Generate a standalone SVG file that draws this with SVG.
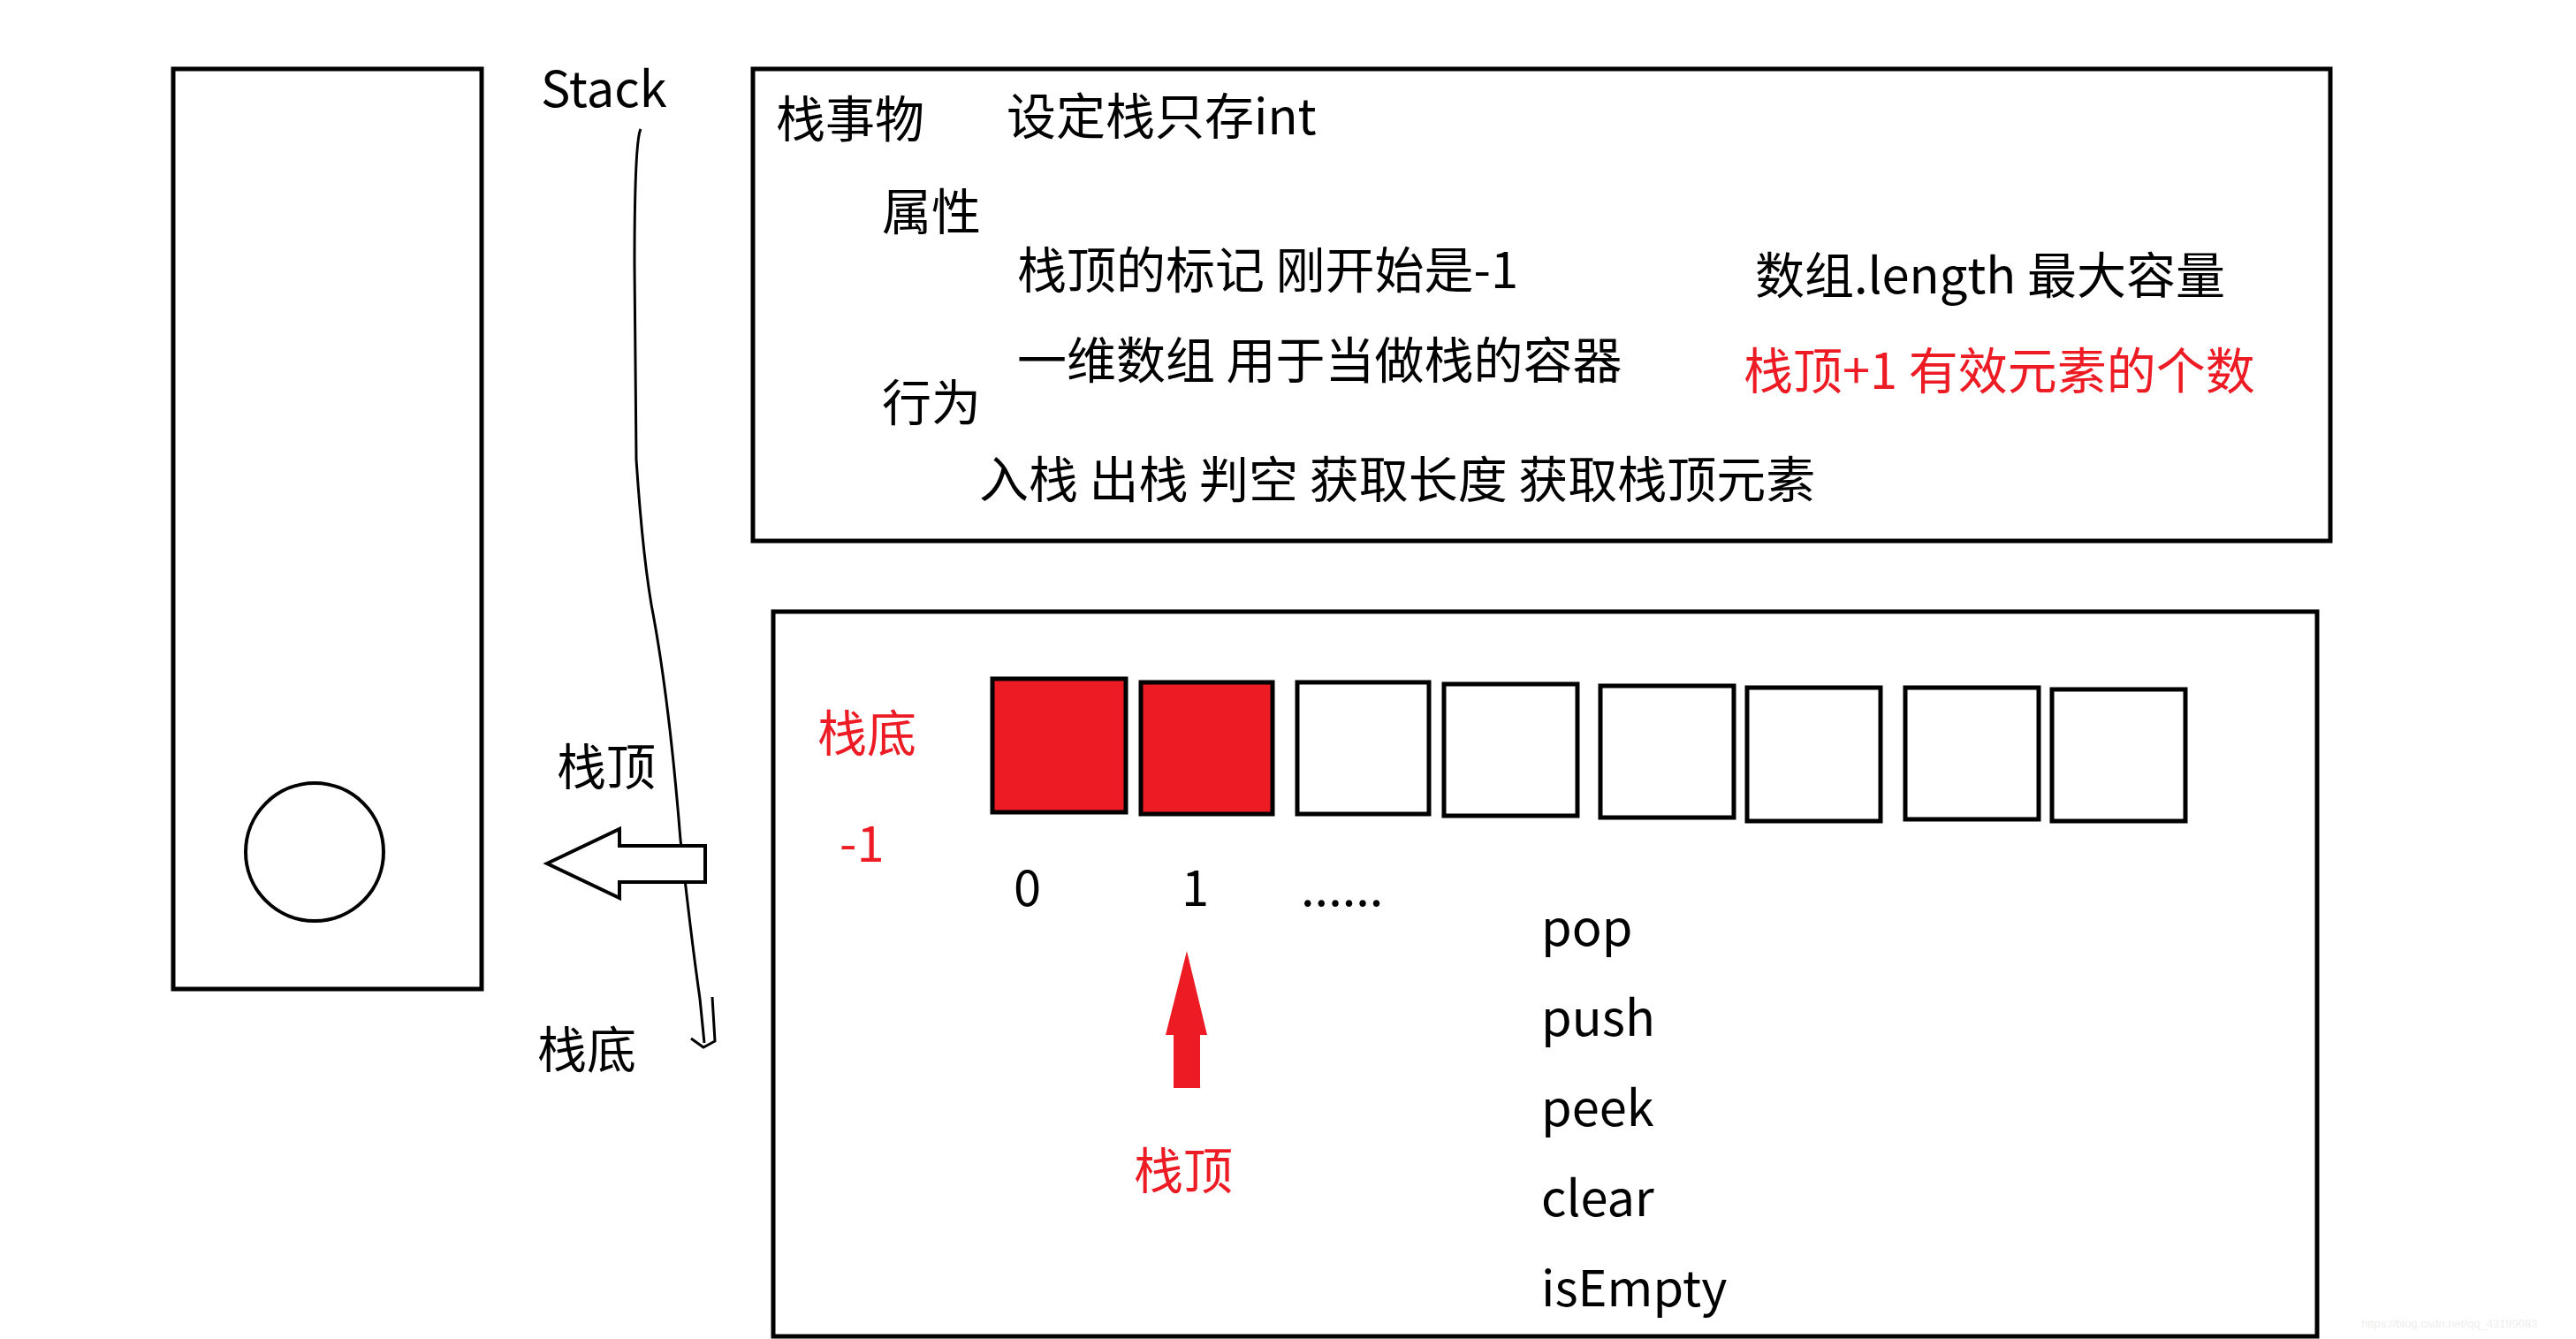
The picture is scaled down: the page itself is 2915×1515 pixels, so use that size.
<svg xmlns="http://www.w3.org/2000/svg" width="2915" height="1515" viewBox="0 0 2915 1515">
<style>
.t{font-family:"Noto Sans CJK SC","Noto Sans",sans-serif;font-size:56px;fill:#000}
.r{fill:#ed1c24}
.box{fill:none;stroke:#000;stroke-width:5}
.cell{fill:#fff;stroke:#000;stroke-width:5}
.red{fill:#ed1c24;stroke:#000;stroke-width:5}
</style>
<rect width="2915" height="1515" fill="#fff"/>
<g id="stack-column">
<rect class="box" x="196" y="78" width="349" height="1041"/>
<circle cx="356" cy="964" r="78" fill="none" stroke="#000" stroke-width="4"/>
</g>
<g id="labels-left">
<text class="t" x="612" y="121">Stack</text>
<text class="t" x="630" y="888">栈顶</text>
<text class="t" x="608" y="1208">栈底</text>
</g>
<g id="info-box">
<rect class="box" x="852" y="78" width="1785" height="534"/>
<text class="t" x="878" y="155">栈事物</text>
<text class="t" x="1139" y="152">设定栈只存int</text>
<text class="t" x="998" y="260">属性</text>
<text class="t" x="1151" y="326">栈顶的标记  刚开始是-1</text>
<text class="t" x="1986" y="332">数组.length 最大容量</text>
<text class="t" x="1151" y="428">一维数组 用于当做栈的容器</text>
<text class="t r" x="1973" y="440">栈顶+1 有效元素的个数</text>
<text class="t" x="998" y="476">行为</text>
<text class="t" x="1108" y="563">入栈 出栈 判空 获取长度 获取栈顶元素</text>
</g>
<g id="array-box">
<rect class="box" x="875" y="692" width="1747" height="820"/>
<rect class="red" x="1123" y="768" width="151" height="151"/>
<rect class="red" x="1291" y="772" width="149" height="149"/>
<rect class="cell" x="1468" y="772" width="149" height="149"/>
<rect class="cell" x="1634" y="774" width="151" height="149"/>
<rect class="cell" x="1811" y="776" width="151" height="149"/>
<rect class="cell" x="1977" y="778" width="151" height="151"/>
<rect class="cell" x="2156" y="778" width="151" height="149"/>
<rect class="cell" x="2322" y="780" width="151" height="149"/>
<text class="t r" x="925" y="850">栈底</text>
<text class="t r" x="950" y="975">-1</text>
<text class="t" x="1147" y="1025">0</text>
<text class="t" x="1337" y="1025">1</text>
<text class="t" x="1472" y="1025">......</text>
<text class="t r" x="1283" y="1345">栈顶</text>
<text class="t" x="1744" y="1070">pop</text>
<text class="t" x="1744" y="1172">push</text>
<text class="t" x="1744" y="1274">peek</text>
<text class="t" x="1744" y="1376">clear</text>
<text class="t" x="1744" y="1478">isEmpty</text>
</g>
<g id="connectors">
<path d="M725 146 Q718 160 718 300 L720 520 Q728 640 740 700 Q758 800 770 950 Q782 1060 792 1130 L797 1180" fill="none" stroke="#000" stroke-width="3"/>
<path d="M782 1175 L796 1185 L809 1178 L806 1128" fill="none" stroke="#000" stroke-width="3"/>
<polygon points="619,977 701,938 701,957 798,957 798,998 701,998 701,1016" fill="#fff" stroke="#000" stroke-width="4"/>
<polygon points="1343,1076 1366,1171 1358,1171 1358,1231 1328,1231 1328,1171 1319,1171" fill="#ed1c24"/>
</g>
<text x="2672" y="1502" font-family="Liberation Sans,sans-serif" font-size="13" fill="#eee">https://blog.csdn.net/qq_43199083</text>
</svg>
